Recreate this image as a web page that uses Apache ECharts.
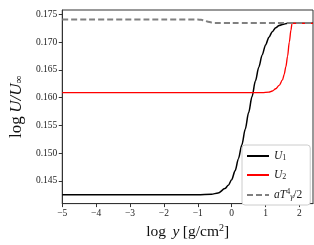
<!DOCTYPE html>
<html>
<head>
<meta charset="utf-8">
<script src="https://cdn.jsdelivr.net/npm/echarts@6/dist/echarts.min.js"></script>
<style>html,body{margin:0;padding:0;background:#fff}#c{width:314px;height:245px}</style>
</head>
<body>
<div id="c"></div>
<script>
// ---- data ----
const xU1 = [-5, -3, -1, -0.6, -0.4, -0.2, -0.1, 0.0, 0.1, 0.2, 0.3, 0.4, 0.5, 0.6, 0.7, 0.8, 0.9, 1.0, 1.1, 1.2, 1.3, 1.4, 1.5, 1.65, 2.0, 2.4];
const yU1 = [0.1425, 0.1425, 0.1425, 0.1426, 0.1428, 0.1436, 0.1442, 0.1452, 0.1468, 0.1490, 0.1515, 0.1543, 0.1573, 0.1602, 0.1630, 0.1655, 0.1677, 0.1695, 0.1709, 0.1719, 0.1726, 0.1730, 0.1732, 0.1734, 0.1734, 0.1734];
const xU2 = [-5, -2, 0, 0.9, 1.1, 1.2, 1.3, 1.4, 1.5, 1.55, 1.6, 1.65, 1.7, 1.75, 1.78, 2.0, 2.4];
const yU2 = [0.1609, 0.1609, 0.1609, 0.1609, 0.1610, 0.1612, 0.1616, 0.1622, 0.1632, 0.1642, 0.1656, 0.1675, 0.1700, 0.1722, 0.1734, 0.1734, 0.1734];
const xAT = [-5, -2, -1.0, -0.9, -0.8, -0.7, -0.6, -0.5, 0, 2.4];
const yAT = [0.1741, 0.1741, 0.1741, 0.17402, 0.1739, 0.1737, 0.17355, 0.17345, 0.17345, 0.17345];
const xTicks = [-5, -4, -3, -2, -1, 0, 1, 2];
const yTicks = [0.145, 0.150, 0.155, 0.160, 0.165, 0.170, 0.175];
const seriesNames = ['U1', 'U2', 'aT'];

const pairs = (xs, ys) => xs.map((x, i) => [x, ys[i]]);
const serif = "'Liberation Serif', 'DejaVu Serif', serif";

const chart = echarts.init(document.getElementById('c'), null, {renderer: 'canvas'});
chart.setOption({
  animation: false,
  grid: {left: 46, right: 1, top: 10, bottom: 41, show: true, borderColor: '#333', borderWidth: 1, backgroundColor: 'transparent'},
  xAxis: {
    type: 'value', min: -5, max: 2.4,
    splitLine: {show: false},
    axisLine: {show: true, onZero: false, lineStyle: {color: '#333', width: 1}},
    axisTick: {show: true, length: 3.5, customValues: xTicks, lineStyle: {color: '#333'}},
    axisLabel: {customValues: xTicks, margin: 5, color: '#222', fontFamily: serif, fontSize: 9.5,
      formatter: v => (v < 0 ? '\u2212' + Math.abs(v) : String(v))},
    name: '{r|log}  {i|y} {r|[g/cm}{sup|2}{r|]}',
    nameLocation: 'middle', nameGap: 17,
    nameTextStyle: {rich: {
      r: {fontFamily: serif, fontSize: 15.5, color: '#111'},
      i: {fontFamily: serif, fontSize: 15.5, fontStyle: 'italic', color: '#111'},
      sup: {fontFamily: serif, fontSize: 10, color: '#111', padding: [0, 0, 7, 0]}
    }}
  },
  yAxis: {
    type: 'value', min: 0.1409, max: 0.1758,
    splitLine: {show: false},
    axisLine: {show: true, onZero: false, lineStyle: {color: '#333', width: 1}},
    axisTick: {show: true, length: 3.5, customValues: yTicks, lineStyle: {color: '#333'}},
    axisLabel: {customValues: yTicks, margin: 5, color: '#222', fontFamily: serif, fontSize: 9.5,
      formatter: v => v.toFixed(3)},
    name: '{r|log} {i|U/U}{sub|\u221E}',
    nameLocation: 'middle', nameGap: 32, nameRotate: 90,
    nameTextStyle: {rich: {
      r: {fontFamily: serif, fontSize: 17, color: '#111'},
      i: {fontFamily: serif, fontSize: 17, fontStyle: 'italic', color: '#111'},
      sub: {fontFamily: serif, fontSize: 11, color: '#111', padding: [5, 0, 0, 0]}
    }}
  },
  legend: {
    orient: 'vertical', left: 242, top: 145,
    padding: [5, 8, 4, 4], itemGap: 7, itemWidth: 22, itemHeight: 10,
    backgroundColor: '#fff', borderColor: '#ccc', borderWidth: 1, borderRadius: 3,
    itemStyle: {opacity: 0},
    data: seriesNames,
    formatter: n => n === 'U1' ? '{i|U}{s|1}' : n === 'U2' ? '{i|U}{s|2}' : '{i|aT}{p|4}{g|\u03B3}{r|/2}',
    textStyle: {color: '#222', rich: {
      i: {fontFamily: serif, fontSize: 11.5, fontStyle: 'italic', color: '#222'},
      r: {fontFamily: serif, fontSize: 11.5, color: '#222'},
      s: {fontFamily: serif, fontSize: 8, color: '#222', padding: [4, 0, 0, 0]},
      g: {fontFamily: serif, fontSize: 8, fontStyle: 'italic', color: '#222', padding: [4, 0, 0, 0]},
      p: {fontFamily: serif, fontSize: 8, color: '#222', padding: [0, 0, 6, 0]}
    }}
  },
  series: [
    {name: 'U1', type: 'line', data: pairs(xU1, yU1), showSymbol: false, symbol: 'none', smooth: 0.3, smoothMonotone: 'x',
      lineStyle: {color: '#000', width: 1.5}, itemStyle: {color: '#000'}, z: 3},
    {name: 'U2', type: 'line', data: pairs(xU2, yU2), showSymbol: false, symbol: 'none', smooth: 0.3, smoothMonotone: 'x',
      lineStyle: {color: '#ff0000', width: 1.3}, itemStyle: {color: '#ff0000'}, z: 4},
    {name: 'aT', type: 'line', data: pairs(xAT, yAT), showSymbol: false, symbol: 'none', smooth: 0.3, smoothMonotone: 'x',
      lineStyle: {color: '#808080', width: 2, type: [6, 3]}, itemStyle: {color: '#808080'}, z: 5}
  ]
});
</script>
</body>
</html>
